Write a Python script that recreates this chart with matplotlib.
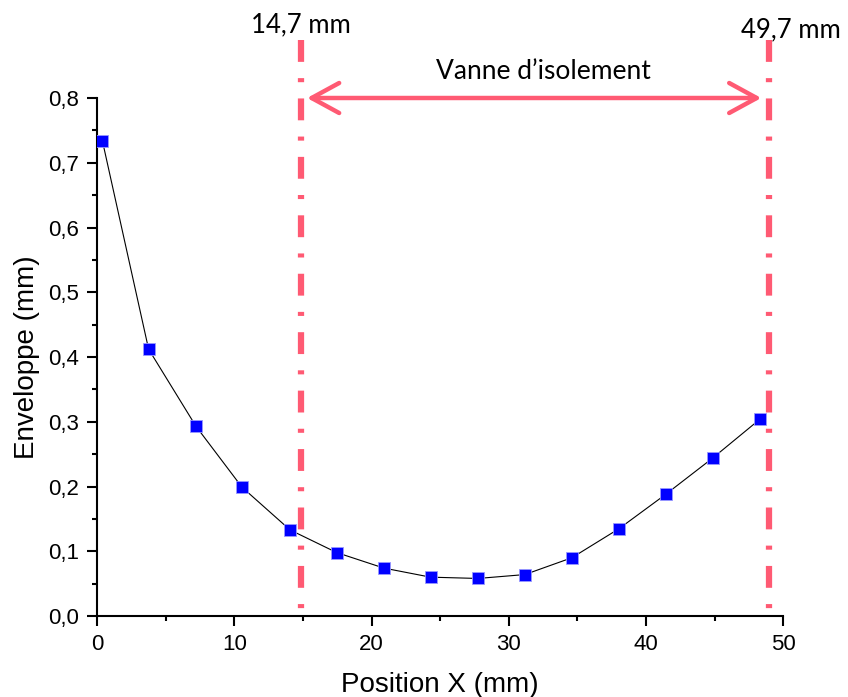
import matplotlib
matplotlib.use('Agg')
import matplotlib.pyplot as plt
import matplotlib.ticker as tck
import numpy as np

# data
position_x = [0.39, 3.76, 7.21, 10.56, 14.06, 17.46, 20.9, 24.3, 27.75,
              31.17, 34.6, 38.04, 41.44, 44.86, 48.3]
enveloppe = [0.734, 0.412, 0.293, 0.199, 0.133, 0.098, 0.074, 0.060, 0.058,
             0.064, 0.090, 0.135, 0.188, 0.244, 0.304]

x_ticks = [0, 10, 20, 30, 40, 50]
y_ticks = [0.0, 0.1, 0.2, 0.3, 0.4, 0.5, 0.6, 0.7, 0.8]
y_ticklabels = ['0,0', '0,1', '0,2', '0,3', '0,4', '0,5', '0,6', '0,7', '0,8']

# valve limits: where the lines sit on the axis, and what their labels say
valve_lines = [14.86, 48.97]
valve_labels = ['14,7 mm', '49,7 mm']
valve_name = 'Vanne d\u2019isolement'

pink = '#FF5A73'
arial = 'Liberation Sans'
calibri = 'Lato'

fig = plt.figure(figsize=(8.48, 6.97), dpi=100)
ax = fig.add_axes([0.1144, 0.1162, 0.8093, 0.7432])

ax.plot(position_x, enveloppe, color='black', lw=0.8, marker='s', ms=8.3,
        mfc='#0000FF', mec='#9999FF', mew=0.6, zorder=3)

# dash-dot valve limits, drawn from the top so the pattern starts with a dash
for xv in valve_lines:
    ax.plot([xv, xv], [0.89, -0.007], color=pink, lw=4.5, clip_on=False,
            dashes=(3.5, 2.6, 0.65, 2.6), solid_capstyle='butt',
            dash_capstyle='butt', zorder=4)

ax.text(valve_lines[0], 0.913, valve_labels[0], ha='center', va='center',
        fontsize=18.5, family=calibri, clip_on=False)
ax.text(50.55, 0.905, valve_labels[1], ha='center', va='center',
        fontsize=18.5, family=calibri, clip_on=False)

ax.annotate('', xy=(48.4, 0.8), xytext=(15.3, 0.8),
            arrowprops=dict(arrowstyle='<->,head_length=0.55,head_width=0.3',
                            color=pink, lw=3.2, mutation_scale=36,
                            shrinkA=0, shrinkB=0, capstyle='round'),
            annotation_clip=False)
ax.text(32.5, 0.841, valve_name, ha='center', va='center', fontsize=19,
        family=calibri)

ax.set_xlim(0, 50)
ax.set_ylim(0, 0.8)
ax.set_xticks(x_ticks)
ax.xaxis.set_minor_locator(tck.MultipleLocator(5))
ax.set_yticks(y_ticks)
ax.set_yticklabels(y_ticklabels)
ax.yaxis.set_minor_locator(tck.MultipleLocator(0.05))

for side in ['top', 'right']:
    ax.spines[side].set_visible(False)
for side in ['left', 'bottom']:
    ax.spines[side].set_linewidth(1.5)

ax.tick_params(which='major', direction='out', length=7, width=1.5,
               labelsize=16, pad=6)
ax.tick_params(which='minor', direction='out', length=3.5, width=1.5)
for lab in ax.get_xticklabels() + ax.get_yticklabels():
    lab.set_family(arial)

ax.set_xlabel('Position X (mm)', fontsize=20, family=arial, labelpad=12)
ax.set_ylabel('Enveloppe (mm)', fontsize=20, family=arial, labelpad=6)

plt.savefig('out.png', dpi=100)
